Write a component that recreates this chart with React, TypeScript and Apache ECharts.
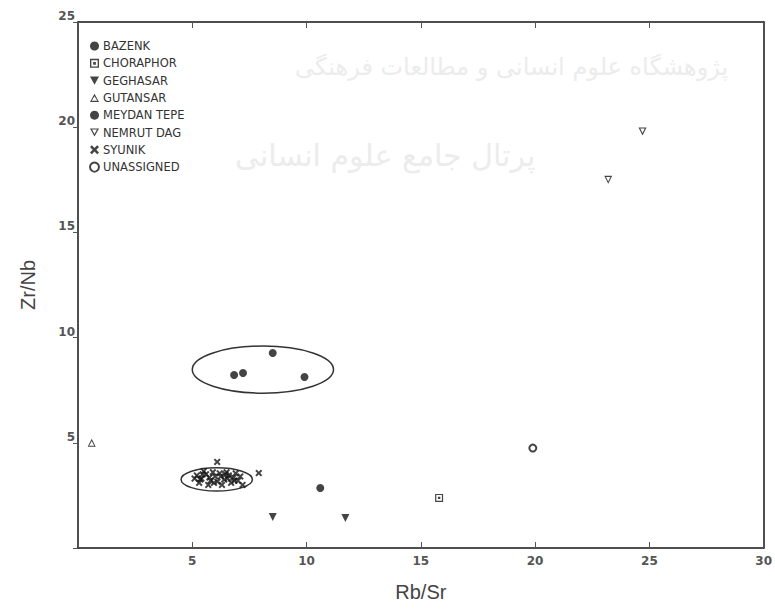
import React, { useEffect, useRef } from "react";
import * as echarts from "echarts";

const xTicks = [0, 5, 10, 15, 20, 25, 30];
const yTicks = [0, 5, 10, 15, 20, 25];

const bazenk = [[10.6, 2.85]];
const choraphor = [[15.8, 2.38]];
const geghasar = [[8.52, 1.47], [11.7, 1.43]];
const gutansar = [[0.6, 5.0]];
const meydanTepe = [[8.52, 9.27], [6.83, 8.22], [7.22, 8.32], [9.91, 8.13]];
const nemrutDag = [[24.7, 19.8], [23.2, 17.5]];
const syunik = [
  [6.09, 4.09], [7.91, 3.56], [5.2, 3.45], [5.4, 3.3], [5.6, 3.5], [5.8, 3.2],
  [6.0, 3.4], [6.2, 3.55], [6.4, 3.25], [6.6, 3.45], [6.8, 3.35], [7.0, 3.2],
  [5.3, 3.1], [5.9, 3.6], [6.3, 3.0], [6.7, 3.1], [7.1, 3.4], [5.5, 3.65],
  [6.5, 3.6], [5.7, 3.0], [6.1, 3.15], [6.9, 3.55], [5.1, 3.3], [7.2, 3.0],
  [5.45, 3.5], [5.75, 3.35], [6.25, 3.4], [6.55, 3.3], [6.85, 3.2], [5.95, 3.1],
  [6.45, 3.5], [5.35, 3.25]
];
const unassigned = [[19.9, 4.75]];
// ellipses: [cx, cy, rx, ry] in data units
const ellipses = [[8.09, 8.48, 3.09, 1.12], [6.07, 3.26, 1.56, 0.55]];

const seriesNames = [
  "BAZENK", "CHORAPHOR", "GEGHASAR", "GUTANSAR",
  "MEYDAN TEPE", "NEMRUT DAG", "SYUNIK", "UNASSIGNED"
];

const INK = "#151515";

export default function App() {
  const ref = useRef<HTMLDivElement>(null);
  useEffect(() => {
    if (!ref.current) return;
    const chart = echarts.init(ref.current, undefined, { renderer: "svg" });
    const sq = "path://M0,0H10V10H0Z M1.5,1.5V8.5H8.5V1.5Z M3.5,3.5H6.5V6.5H3.5Z";
    const downTri = "path://M0,0H10L5,9Z";
    const upTriOpen = "path://M5,0L10,9H0Z M5,2.6L1.9,7.7H8.1Z";
    const downTriOpen = "path://M0,0H10L5,9Z M2.2,1.3L5,6.3L7.8,1.3Z";
    const xMark = "path://M0,2L2,0L5,3L8,0L10,2L7,5L10,8L8,10L5,7L2,10L0,8L3,5Z";
    const mk = (name: string, data: number[][], symbol: string, size: number, extra: any = {}) => ({
      name,
      type: "scatter",
      data,
      symbol,
      symbolSize: size,
      itemStyle: { color: INK, ...extra },
      z: 5,
    });
    const labelStyle = { color: "#555", fontSize: 12, fontFamily: "DejaVu Sans", fontWeight: "bold" as const };
    chart.setOption({
      animation: false,
      backgroundColor: "#fff",
      grid: { left: 78, right: 7, top: 22, bottom: 62 },
      legend: {
        data: seriesNames,
        orient: "vertical",
        left: 89,
        top: 40,
        itemWidth: 9,
        itemHeight: 9,
        itemGap: 5.3,
        padding: 0,
        textStyle: { fontSize: 11.5, lineHeight: 11, color: "#333", fontFamily: "DejaVu Sans", padding: [0, 0, 0, -1] },
        selectedMode: false,
      },
      graphic: [
        {
          type: "text", left: 295, top: 55, silent: true, z: -10,
          style: { text: "پژوهشگاه علوم انسانی و مطالعات فرهنگی", fontSize: 24, fill: "#ececec", fontFamily: "DejaVu Sans" },
        },
        {
          type: "text", left: 235, top: 140, silent: true, z: -10,
          style: { text: "پرتال جامع علوم انسانی", fontSize: 30, fill: "#ececec", fontFamily: "DejaVu Sans" },
        },
      ],
      xAxis: [
        {
          type: "value", min: 0, max: 30, interval: 5, position: "bottom",
          name: "Rb/Sr", nameLocation: "middle", nameGap: 34,
          nameTextStyle: { fontSize: 20, color: "#444", fontFamily: "Liberation Sans" },
          axisLine: { show: true, onZero: false, lineStyle: { color: INK, width: 1.5 } },
          axisTick: { show: true, inside: true, length: 6, lineStyle: { color: "#555", width: 1 } },
          axisLabel: { ...labelStyle, margin: 7, formatter: (v: number) => (v === 0 ? "" : String(v)) },
          splitLine: { show: false },
        },
        {
          type: "value", min: 0, max: 30, interval: 5, position: "top",
          axisLine: { show: true, onZero: false, lineStyle: { color: INK, width: 1.5 } },
          axisTick: { show: true, inside: true, length: 6, lineStyle: { color: "#555", width: 1 } },
          axisLabel: { show: false },
          splitLine: { show: false },
        },
      ],
      yAxis: [
        {
          type: "value", min: 0, max: 25, interval: 5, position: "left",
          name: "Zr/Nb", nameLocation: "middle", nameGap: 40,
          nameTextStyle: { fontSize: 20, color: "#444", fontFamily: "Liberation Sans" },
          axisLine: { show: true, onZero: false, lineStyle: { color: INK, width: 1.5 } },
          axisTick: { show: true, inside: false, length: 5, lineStyle: { color: "#555", width: 1 } },
          axisLabel: { ...labelStyle, margin: 3, formatter: (v: number) => (v === 0 ? "" : String(v)), verticalAlign: "bottom" },
          splitLine: { show: false },
        },
        {
          type: "value", min: 0, max: 25, interval: 5, position: "right",
          axisLine: { show: true, onZero: false, lineStyle: { color: INK, width: 1.5 } },
          axisTick: { show: false },
          axisLabel: { show: false },
          splitLine: { show: false },
        },
      ],
      series: [
        mk("BAZENK", bazenk, "circle", 8),
        mk("CHORAPHOR", choraphor, sq, 8),
        mk("GEGHASAR", geghasar, downTri, 8),
        mk("GUTANSAR", gutansar, upTriOpen, 8),
        mk("MEYDAN TEPE", meydanTepe, "circle", 8),
        mk("NEMRUT DAG", nemrutDag, downTriOpen, 8),
        mk("SYUNIK", syunik, xMark, 7),
        mk("UNASSIGNED", unassigned, "emptyCircle", 7, { borderWidth: 1.5, borderColor: INK }),
        {
          type: "custom",
          name: "ellipses",
          data: ellipses,
          z: 4,
          silent: true,
          renderItem: (params: any, api: any) => {
            const c = api.coord([api.value(0), api.value(1)]);
            const s = api.size([api.value(2), api.value(3)]);
            return {
              type: "ellipse",
              shape: { cx: c[0], cy: c[1], rx: s[0], ry: s[1] },
              style: { fill: "none", stroke: "#333", lineWidth: 1.5 },
            };
          },
        },
      ],
    });
    return () => chart.dispose();
  }, []);
  return <div ref={ref} style={{ width: 775, height: 610, position: "absolute", left: 0, top: 0 }} />;
}
